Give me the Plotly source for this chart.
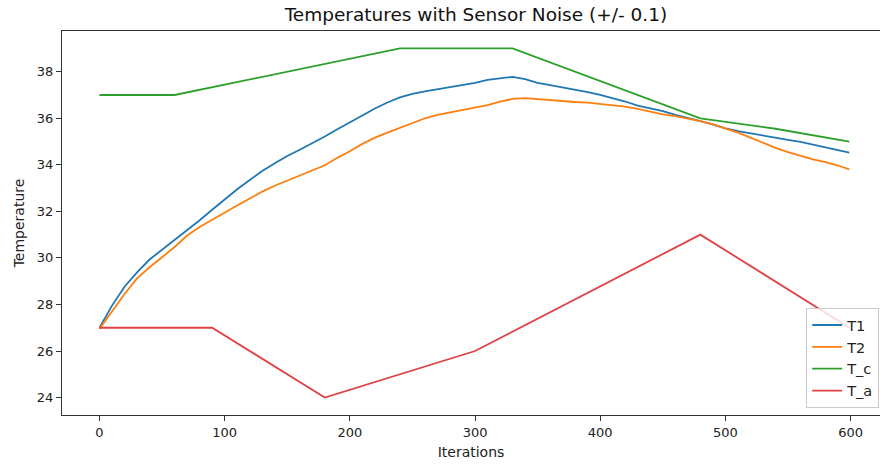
import plotly.graph_objects as go

# ---- data ----
iters = [0, 10, 20, 30, 40, 50, 60, 70, 80, 90, 100, 110, 120, 130, 140, 150, 160, 170, 180, 190,
         200, 210, 220, 230, 240, 250, 260, 270, 280, 290, 300, 310, 320, 330, 340, 350, 360, 370,
         380, 390, 400, 410, 420, 430, 440, 450, 460, 470, 480, 490, 500, 510, 520, 530, 540, 550,
         560, 570, 580, 590, 599]

T1 = [27.0, 27.95, 28.76, 29.38, 29.93, 30.35, 30.75, 31.19, 31.62, 32.07, 32.52, 32.95, 33.35,
      33.73, 34.07, 34.38, 34.65, 34.92, 35.22, 35.53, 35.81, 36.12, 36.42, 36.68, 36.90, 37.05,
      37.16, 37.25, 37.32, 37.42, 37.52, 37.65, 37.72, 37.78, 37.68, 37.52, 37.42, 37.33, 37.22,
      37.12, 37.01, 36.88, 36.72, 36.54, 36.42, 36.31, 36.15, 36.00, 35.88, 35.74, 35.57, 35.45,
      35.35, 35.24, 35.15, 35.07, 34.99, 34.88, 34.77, 34.63, 34.52]

T2 = [26.95, 27.7, 28.45, 29.12, 29.6, 30.03, 30.47, 30.96, 31.33, 31.64, 31.96, 32.25, 32.55,
      32.85, 33.1, 33.32, 33.55, 33.75, 33.98, 34.3, 34.58, 34.9, 35.17, 35.38, 35.59, 35.8, 36.0,
      36.15, 36.25, 36.35, 36.44, 36.57, 36.72, 36.83, 36.87, 36.82, 36.79, 36.75, 36.70, 36.67,
      36.62, 36.57, 36.50, 36.40, 36.28, 36.17, 36.09, 36.0, 35.88, 35.74, 35.57, 35.38, 35.17,
      34.95, 34.73, 34.55, 34.4, 34.23, 34.12, 33.97, 33.80]

Tc_iters = [0, 60, 240, 330, 480, 540, 599]
Tc = [37.0, 37.0, 39.0, 39.0, 36.0, 35.55, 35.0]

Ta_iters = [0, 90, 180, 300, 480, 599]
Ta = [27.0, 27.0, 24.0, 26.0, 31.0, 27.0]

x_ticks = [0, 100, 200, 300, 400, 500, 600]
y_ticks = [24, 26, 28, 30, 32, 34, 36, 38]

FONT = "DejaVu Sans"
fig = go.Figure()
lw = 1.8
fig.add_trace(go.Scatter(x=iters, y=T1, mode="lines", name="T1", line=dict(color="#1f77b4", width=lw)))
fig.add_trace(go.Scatter(x=iters, y=T2, mode="lines", name="T2", line=dict(color="#ff7f0e", width=lw)))
fig.add_trace(go.Scatter(x=Tc_iters, y=Tc, mode="lines", name="T_c", line=dict(color="#2ca02c", width=lw)))
fig.add_trace(go.Scatter(x=Ta_iters, y=Ta, mode="lines", name="T_a", line=dict(color="#e04244", width=lw)))

axis_common = dict(
    showgrid=False, zeroline=False, showline=True, linecolor="#333333", linewidth=1,
    mirror=True, ticks="outside", ticklen=5, tickwidth=1, tickcolor="#333333",
    tickfont=dict(family=FONT, size=13, color="#222222"),
)

fig.update_layout(
    width=880, height=466,
    margin=dict(l=62, r=0, t=31, b=51),
    paper_bgcolor="white", plot_bgcolor="white",
    font=dict(family=FONT, color="#222222"),
    title=dict(text="Temperatures with Sensor Noise (+/- 0.1)", xref="paper", x=0.506, xanchor="center",
               y=1 - 15 / 466, yanchor="middle", font=dict(family=FONT, size=18.5, color="#111111")),
    xaxis=dict(range=[-29.95, 623.5], tickvals=x_ticks,
               title=dict(text="Iterations", font=dict(family=FONT, size=14), standoff=8),
               **axis_common),
    yaxis=dict(range=[23.25, 39.75], tickvals=y_ticks,
               title=dict(text="Temperature", font=dict(family=FONT, size=14), standoff=8),
               **axis_common),
    legend=dict(x=0.999, xanchor="right", y=0.018, yanchor="bottom", itemwidth=30,
                bgcolor="rgba(255,255,255,0.8)", bordercolor="#cccccc", borderwidth=1,
                font=dict(family=FONT, size=14.5, color="#222222")),
    showlegend=True,
)

fig.write_html("out.html")
